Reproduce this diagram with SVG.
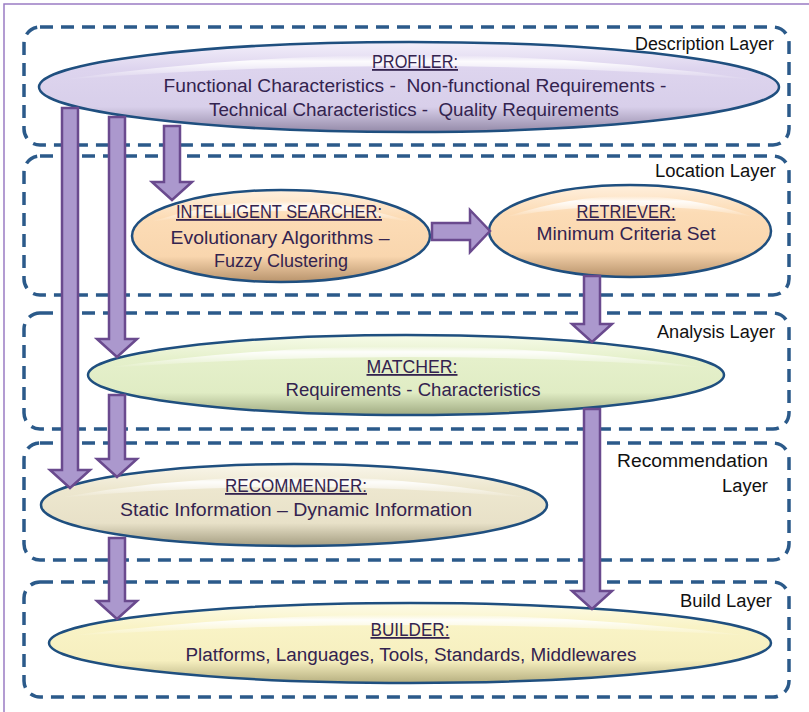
<svg xmlns="http://www.w3.org/2000/svg" width="809" height="712" viewBox="0 0 809 712">
  <defs>
    <style>
      .layer { fill: none; stroke: #2b5a8a; stroke-width: 3.5; stroke-dasharray: 13 8; }
      .node { stroke: #1f4f7f; stroke-width: 2.5; }
      .shine { fill: url(#shine); }
      .lbl { font-family: "Liberation Sans", Arial, sans-serif; font-size: 18px; fill: #111; text-anchor: end; }
      .txt { font-family: "Liberation Sans", Arial, sans-serif; font-size: 18px; fill: #33234f; text-anchor: middle; }
      .ttl { text-decoration: underline; }
      .arrow { fill: #ab98cd; stroke: #6a4a8e; stroke-width: 2.5; stroke-linejoin: miter; }
    </style>
    <linearGradient id="gLav" x1="0" y1="0" x2="0" y2="1">
      <stop offset="0" stop-color="#f3effa"/>
      <stop offset="0.3" stop-color="#ddd4ee"/>
      <stop offset="0.72" stop-color="#d8cfea"/>
      <stop offset="1" stop-color="#948aa8"/>
    </linearGradient>
    <linearGradient id="gPeach" x1="0" y1="0" x2="0" y2="1">
      <stop offset="0" stop-color="#fff0de"/>
      <stop offset="0.3" stop-color="#fcdcb6"/>
      <stop offset="0.72" stop-color="#f9d6ae"/>
      <stop offset="1" stop-color="#b8936c"/>
    </linearGradient>
    <linearGradient id="gGreen" x1="0" y1="0" x2="0" y2="1">
      <stop offset="0" stop-color="#f6fbe8"/>
      <stop offset="0.3" stop-color="#e5f0cb"/>
      <stop offset="0.72" stop-color="#e0ecc4"/>
      <stop offset="1" stop-color="#a0ab82"/>
    </linearGradient>
    <linearGradient id="gBeige" x1="0" y1="0" x2="0" y2="1">
      <stop offset="0" stop-color="#f9f6ea"/>
      <stop offset="0.3" stop-color="#ede7cf"/>
      <stop offset="0.72" stop-color="#e8e1c8"/>
      <stop offset="1" stop-color="#a59e82"/>
    </linearGradient>
    <linearGradient id="gYellow" x1="0" y1="0" x2="0" y2="1">
      <stop offset="0" stop-color="#fdfbe6"/>
      <stop offset="0.3" stop-color="#f9f3c6"/>
      <stop offset="0.72" stop-color="#f6efbf"/>
      <stop offset="1" stop-color="#b6af80"/>
    </linearGradient>
    <linearGradient id="shine" x1="0" y1="0" x2="0" y2="1">
      <stop offset="0" stop-color="#ffffff" stop-opacity="0"/>
      <stop offset="0.25" stop-color="#ffffff" stop-opacity="0.9"/>
      <stop offset="1" stop-color="#ffffff" stop-opacity="0"/>
    </linearGradient>
  </defs>

  <!-- outer frame -->
  <path d="M4 712 V4 H809" fill="none" stroke="#9a7cc4" stroke-width="1.5"/>

  <!-- dashed layer boxes -->
  <g id="layers">
    <rect class="layer" x="24" y="27" width="765" height="118" rx="16"/>
    <rect class="layer" x="24" y="156" width="765" height="139" rx="16"/>
    <rect class="layer" x="24" y="313" width="765" height="116" rx="16"/>
    <rect class="layer" x="24" y="443" width="765" height="117" rx="16"/>
    <rect class="layer" x="24" y="582" width="765" height="115" rx="16"/>
    <text class="lbl" x="774" y="50" textLength="139" lengthAdjust="spacingAndGlyphs">Description Layer</text>
    <text class="lbl" x="776" y="177" textLength="121" lengthAdjust="spacingAndGlyphs">Location Layer</text>
    <text class="lbl" x="775" y="338" textLength="118" lengthAdjust="spacingAndGlyphs">Analysis Layer</text>
    <text class="lbl" x="768" y="467" textLength="151" lengthAdjust="spacingAndGlyphs">Recommendation</text>
    <text class="lbl" x="768" y="492" textLength="46" lengthAdjust="spacingAndGlyphs">Layer</text>
    <text class="lbl" x="772" y="607" textLength="92" lengthAdjust="spacingAndGlyphs">Build Layer</text>
  </g>

  <!-- nodes -->
  <g id="profiler">
    <ellipse class="node" cx="409" cy="87" rx="370" ry="45" fill="url(#gLav)"/>
    <path class="shine" d="M60 80 Q409 30 758 80 Q409 52 60 80 Z"/>
    <text class="txt ttl" x="415" y="68" textLength="86" lengthAdjust="spacingAndGlyphs">PROFILER:</text>
    <text class="txt" x="415" y="92" textLength="503" lengthAdjust="spacingAndGlyphs" xml:space="preserve">Functional Characteristics -  Non-functional Requirements -</text>
    <text class="txt" x="414" y="116" textLength="410" lengthAdjust="spacingAndGlyphs" xml:space="preserve">Technical Characteristics -  Quality Requirements</text>
  </g>

  <g id="searcher">
    <ellipse class="node" cx="281" cy="236" rx="149" ry="46" fill="url(#gPeach)"/>
    <path class="shine" d="M150 222 Q281 180 412 222 Q281 200 150 222 Z"/>
    <text class="txt ttl" x="279" y="218" textLength="206" lengthAdjust="spacingAndGlyphs">INTELLIGENT SEARCHER:</text>
    <text class="txt" x="280" y="244" textLength="219" lengthAdjust="spacingAndGlyphs">Evolutionary Algorithms –</text>
    <text class="txt" x="281" y="267" textLength="134" lengthAdjust="spacingAndGlyphs">Fuzzy Clustering</text>
  </g>

  <g id="retriever">
    <ellipse class="node" cx="630" cy="231" rx="141" ry="46" fill="url(#gPeach)"/>
    <path class="shine" d="M506 217 Q630 175 754 217 Q630 195 506 217 Z"/>
    <text class="txt ttl" x="626" y="218" textLength="99" lengthAdjust="spacingAndGlyphs">RETRIEVER:</text>
    <text class="txt" x="626" y="240" textLength="179" lengthAdjust="spacingAndGlyphs">Minimum Criteria Set</text>
  </g>

  <g id="matcher">
    <ellipse class="node" cx="406" cy="375" rx="318" ry="40" fill="url(#gGreen)"/>
    <path class="shine" d="M105 368 Q406 325 707 368 Q406 346 105 368 Z"/>
    <text class="txt ttl" x="412" y="373" textLength="91" lengthAdjust="spacingAndGlyphs">MATCHER:</text>
    <text class="txt" x="413" y="396" textLength="255" lengthAdjust="spacingAndGlyphs">Requirements - Characteristics</text>
  </g>

  <g id="recommender">
    <ellipse class="node" cx="294" cy="505" rx="253" ry="41" fill="url(#gBeige)"/>
    <path class="shine" d="M58 498 Q294 455 530 498 Q294 476 58 498 Z"/>
    <text class="txt ttl" x="296" y="492" textLength="142" lengthAdjust="spacingAndGlyphs">RECOMMENDER:</text>
    <text class="txt" x="296" y="516" textLength="352" lengthAdjust="spacingAndGlyphs">Static Information – Dynamic Information</text>
  </g>

  <g id="builder">
    <ellipse class="node" cx="410" cy="643" rx="361" ry="40" fill="url(#gYellow)"/>
    <path class="shine" d="M68 636 Q410 593 752 636 Q410 614 68 636 Z"/>
    <text class="txt ttl" x="410" y="636" textLength="79" lengthAdjust="spacingAndGlyphs">BUILDER:</text>
    <text class="txt" x="411" y="661" textLength="451" lengthAdjust="spacingAndGlyphs">Platforms, Languages, Tools, Standards, Middlewares</text>
  </g>

  <!-- block arrows between components -->
  <g id="connectors">
    <!-- profiler -> recommender -->
    <polygon class="arrow" points="62,108 78,108 78,470 90,470 70,488 50,470 62,470"/>
    <!-- profiler -> matcher -->
    <polygon class="arrow" points="109,117 125,117 125,339 137,339 117,357 97,339 109,339"/>
    <!-- profiler -> intelligent searcher -->
    <polygon class="arrow" points="164,126 180,126 180,182 192,182 172,200 152,182 164,182"/>
    <!-- intelligent searcher -> retriever -->
    <polygon class="arrow" points="432,223 470,223 470,210 490,231 470,252 470,240 432,240"/>
    <!-- retriever -> matcher -->
    <polygon class="arrow" points="584,276 600,276 600,324 612,324 592,342 572,324 584,324"/>
    <!-- matcher -> recommender -->
    <polygon class="arrow" points="109,395 125,395 125,459 137,459 117,477 97,459 109,459"/>
    <!-- matcher -> builder -->
    <polygon class="arrow" points="584,409 600,409 600,591 612,591 592,609 572,591 584,591"/>
    <!-- recommender -> builder -->
    <polygon class="arrow" points="109,538 125,538 125,601 137,601 117,619 97,601 109,601"/>
  </g>
</svg>
